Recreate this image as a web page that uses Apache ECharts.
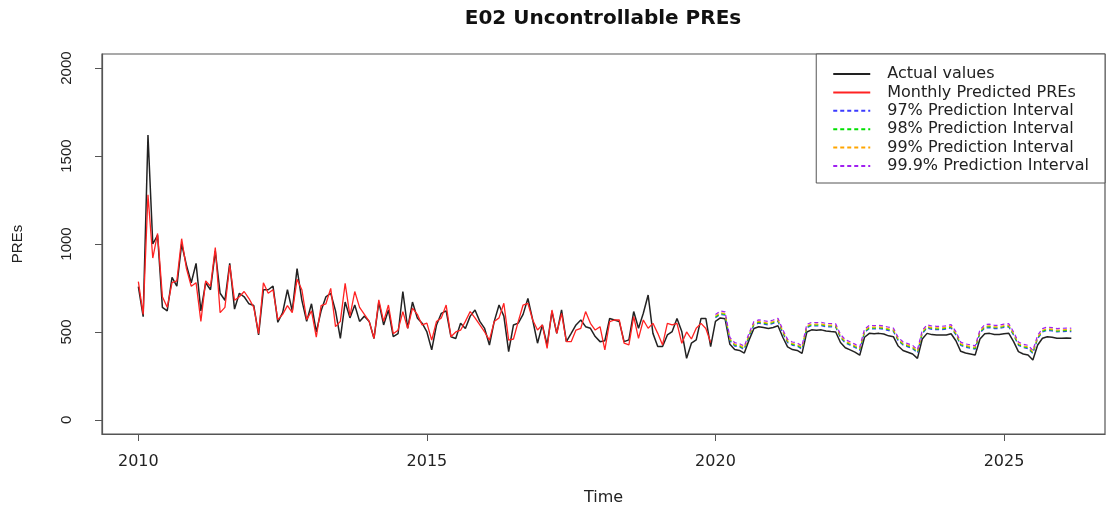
<!DOCTYPE html>
<html>
<head>
<meta charset="utf-8">
<script src="https://cdn.jsdelivr.net/npm/echarts@6/dist/echarts.min.js"></script>
<style>
  html, body { margin: 0; padding: 0; background: #ffffff; }
  #chart { width: 1106px; height: 511px; }
</style>
</head>
<body>
<div id="chart"></div>
<script>
// ---- Data (monthly, starting Jan 2010) ----
const startYear = 2010;
const actualValues = [
  758, 587, 1620, 1000, 1050, 640, 620, 810, 760, 1000, 880, 780,
  890, 620, 780, 740, 960, 720, 680, 890, 630, 720, 700, 660,
  650, 483, 740, 740, 760, 555, 610, 740, 620, 860, 680, 560,
  660, 500, 620, 700, 720, 620, 463, 670, 580, 653, 560, 590,
  560, 463, 670, 540, 625, 473, 490, 730, 521, 670, 580, 550,
  500, 398, 540, 606, 620, 473, 463, 549, 520, 590, 625, 560,
  520, 426, 560, 653, 590, 388, 540, 550, 600, 691, 568, 436,
  540, 426, 616, 492, 625, 445, 492, 540, 568, 530, 521, 474,
  445, 450, 577, 568, 559, 445, 455, 616, 521, 606, 710, 492,
  417, 417, 483, 502, 577, 502, 350, 436, 455, 577, 577, 417
];
const predictedPREs = [
  786, 600, 1280, 920, 1060, 700, 640, 780, 790, 1030, 860, 760,
  780, 560, 790, 760, 980, 610, 640, 880, 680, 700, 730, 690,
  640, 490, 780, 720, 740, 570, 600, 650, 610, 800, 740, 570,
  620, 470, 650, 660, 748, 530, 560, 776, 590, 730, 640, 600,
  560, 463, 682, 560, 653, 490, 510, 616, 520, 635, 600, 540,
  550, 454, 560, 580, 653, 473, 500, 510, 560, 616, 580, 540,
  500, 454, 560, 580, 663, 454, 460, 560, 653, 663, 568, 511,
  540, 407, 625, 492, 606, 445, 445, 511, 521, 616, 549, 511,
  530, 398, 559, 568, 568, 436, 426, 587, 464, 568, 521, 549,
  492, 426, 549, 540, 549, 436, 500, 460, 521, 549, 520, 440
];
// forecast period starts Jan 2020 (month index 120)
const forecastStart = 120;
const forecastValues = [
  560, 580, 575, 430, 400, 395, 380, 455, 520, 530, 525, 520,
  525, 535, 470, 415, 400, 395, 378, 500, 512, 510, 512, 505,
  502, 500, 440, 410, 398, 385, 368, 470, 492, 490, 492, 488,
  478, 473, 420, 395, 385, 375, 350, 460, 492, 485, 483, 483,
  483, 490, 450, 390, 380, 375, 369, 460, 490, 492, 486, 486,
  490, 492, 445, 388, 375, 369, 341, 426, 464, 473, 470, 464,
  464, 465, 464
];
const pi97 = [
  580, 600, 595, 450, 420, 415, 400, 475, 540, 550, 545, 540,
  549, 559, 494, 439, 424, 419, 402, 524, 536, 534, 536, 529,
  529, 527, 467, 437, 425, 412, 395, 497, 519, 517, 519, 515,
  508, 503, 450, 425, 415, 405, 380, 490, 522, 515, 513, 513,
  516, 523, 483, 423, 413, 408, 402, 493, 523, 525, 519, 519,
  526, 528, 481, 424, 411, 405, 377, 462, 500, 509, 506, 500,
  502, 503, 502
];
const pi98 = [
  585, 605, 600, 455, 425, 420, 405, 480, 545, 555, 550, 545,
  554, 564, 499, 444, 429, 424, 407, 529, 541, 539, 541, 534,
  534, 532, 472, 442, 430, 417, 400, 502, 524, 522, 524, 520,
  513, 508, 455, 430, 420, 410, 385, 495, 527, 520, 518, 518,
  521, 528, 488, 428, 418, 413, 407, 498, 528, 530, 524, 524,
  531, 533, 486, 429, 416, 410, 382, 467, 505, 514, 511, 505,
  507, 508, 507
];
const pi99 = [
  590, 610, 605, 460, 430, 425, 410, 485, 550, 560, 555, 550,
  559, 569, 504, 449, 434, 429, 412, 534, 546, 544, 546, 539,
  539, 537, 477, 447, 435, 422, 405, 507, 529, 527, 529, 525,
  518, 513, 460, 435, 425, 415, 390, 500, 532, 525, 523, 523,
  526, 533, 493, 433, 423, 418, 412, 503, 533, 535, 529, 529,
  536, 538, 491, 434, 421, 415, 387, 472, 510, 519, 516, 510,
  512, 513, 512
];
const pi999 = [
  599, 619, 614, 469, 439, 434, 419, 494, 559, 569, 564, 559,
  568, 578, 513, 458, 443, 438, 421, 543, 555, 553, 555, 548,
  548, 546, 486, 456, 444, 431, 414, 516, 538, 536, 538, 534,
  527, 522, 469, 444, 434, 424, 399, 509, 541, 534, 532, 532,
  535, 542, 502, 442, 432, 427, 421, 512, 542, 544, 538, 538,
  545, 547, 500, 443, 430, 424, 396, 481, 519, 528, 525, 519,
  521, 522, 521
];
const xTickLabels = [2010, 2015, 2020, 2025];
const yTickLabels = [0, 500, 1000, 1500, 2000];
const seriesNames = [
  'Actual values', 'Monthly Predicted PREs', '97% Prediction Interval',
  '98% Prediction Interval', '99% Prediction Interval', '99.9% Prediction Interval'
];

// ---- Build series data (time in decimal years) ----
function toPairs(arr, startIndex) {
  return arr.map((v, i) => [startYear + (startIndex + i) / 12, v]);
}
const blackLine = toPairs(actualValues.concat(forecastValues), 0);
const redLine = toPairs(predictedPREs, 0);

const chart = echarts.init(document.getElementById('chart'), null, { renderer: 'canvas' });
const dash = [4, 3];
const option = {
  animation: false,
  backgroundColor: '#ffffff',
  title: {
    text: 'E02 Uncontrollable PREs',
    left: 603,
    top: 9,
    padding: 0,
    textAlign: 'center',
    textStyle: { fontFamily: 'DejaVu Sans', fontWeight: 'bold', fontSize: 20, color: '#111' }
  },
  legend: {
    orient: 'vertical',
    right: 1,
    top: 54,
    padding: [12, 16, 9, 16],
    itemWidth: 37,
    itemHeight: 14,
    itemGap: 2.4,
    backgroundColor: '#ffffff',
    borderColor: '#555',
    borderWidth: 1,
    data: seriesNames,
    itemStyle: { opacity: 0 },
    textStyle: { fontFamily: 'DejaVu Sans', fontSize: 16, color: '#222', padding: [0, 0, 0, 12] }
  },
  grid: {
    left: 102, right: 1, top: 54, bottom: 77,
    show: true, borderColor: '#555', borderWidth: 1.2, backgroundColor: 'transparent'
  },
  xAxis: {
    type: 'value',
    min: 2009.37,
    max: 2026.75,
    name: 'Time',
    nameLocation: 'middle',
    nameGap: 56,
    nameTextStyle: { fontFamily: 'DejaVu Sans', fontSize: 16, color: '#222' },
    axisLine: { show: true, onZero: false, lineStyle: { color: '#555', width: 1.2 } },
    axisTick: { show: true, length: 7, customValues: xTickLabels, lineStyle: { color: '#555' } },
    axisLabel: {
      customValues: xTickLabels,
      margin: 20,
      fontFamily: 'DejaVu Sans', fontSize: 16, color: '#222',
      formatter: v => String(Math.round(v))
    },
    splitLine: { show: false }
  },
  yAxis: {
    type: 'value',
    min: -80,
    max: 2080,
    name: 'PREs',
    nameLocation: 'middle',
    nameRotate: 90,
    nameGap: 77,
    nameTextStyle: { fontFamily: 'Liberation Sans', fontSize: 15, color: '#222' },
    axisLine: { show: true, lineStyle: { color: '#555', width: 1.2 } },
    axisTick: { show: true, length: 7, customValues: yTickLabels, lineStyle: { color: '#555' } },
    axisLabel: {
      customValues: yTickLabels,
      rotate: 90,
      margin: 28,
      fontFamily: 'Liberation Sans', fontSize: 15, color: '#222',
      formatter: v => String(Math.round(v))
    },
    splitLine: { show: false }
  },
  series: [
    { name: seriesNames[0], type: 'line', data: blackLine, symbol: 'none', showSymbol: false,
      lineStyle: { color: '#222222', width: 1.5 }, itemStyle: { color: '#222222' }, z: 2 },
    { name: seriesNames[1], type: 'line', data: redLine, symbol: 'none', showSymbol: false,
      lineStyle: { color: '#ff2222', width: 1.3 }, itemStyle: { color: '#ff2222' }, z: 3 },
    { name: seriesNames[2], type: 'line', data: toPairs(pi97, forecastStart), symbol: 'none', showSymbol: false,
      lineStyle: { color: '#3b3bff', width: 1.2, type: dash }, itemStyle: { color: '#3b3bff' }, z: 4 },
    { name: seriesNames[3], type: 'line', data: toPairs(pi98, forecastStart), symbol: 'none', showSymbol: false,
      lineStyle: { color: '#00e000', width: 1.2, type: dash }, itemStyle: { color: '#00e000' }, z: 4 },
    { name: seriesNames[4], type: 'line', data: toPairs(pi99, forecastStart), symbol: 'none', showSymbol: false,
      lineStyle: { color: '#ffa500', width: 1.2, type: dash }, itemStyle: { color: '#ffa500' }, z: 4 },
    { name: seriesNames[5], type: 'line', data: toPairs(pi999, forecastStart), symbol: 'none', showSymbol: false,
      lineStyle: { color: '#a020f0', width: 1.2, type: dash }, itemStyle: { color: '#a020f0' }, z: 4 }
  ]
};
chart.setOption(option);
</script>
</body>
</html>
